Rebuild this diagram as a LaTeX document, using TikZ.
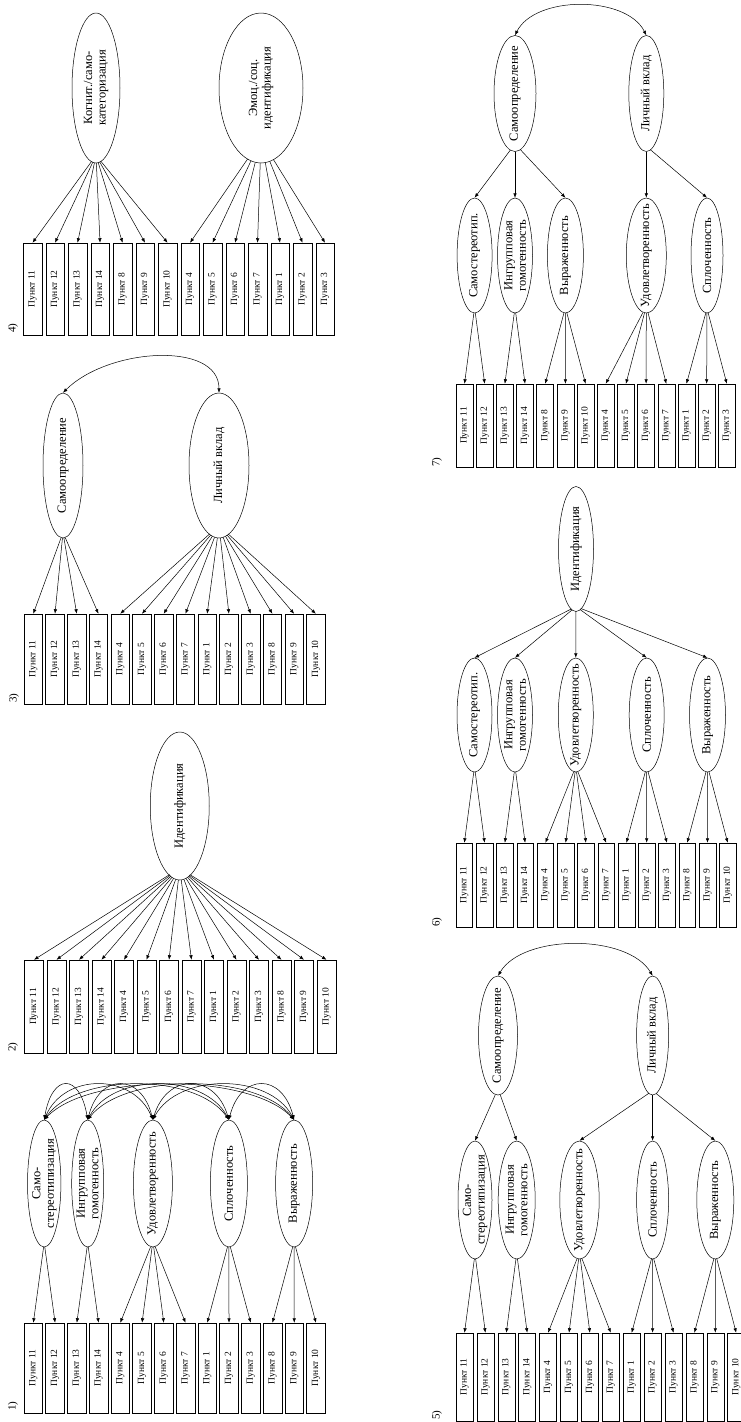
\documentclass[tikz,border=0pt]{standalone}
\usepackage{fontspec}
\setmainfont{Liberation Serif}
\usepackage{graphicx}
\usetikzlibrary{shapes.geometric, arrows.meta}
\tikzset{
  ell/.style={ellipse, draw, line width=0.5pt, inner sep=0pt},
  elltxt/.style={rotate=90, align=center, inner sep=0pt, font=\fontsize{12.5}{13.5}\selectfont},
  itembox/.style={rectangle, draw, line width=0.5pt, inner sep=1pt, font=\fontsize{9.5}{10}\selectfont},
  hub/.style={circle, inner sep=0pt, draw=none},
  arr/.style={line width=0.5pt, -{Latex[length=4.5pt,width=3.5pt]}},
  cov/.style={line width=0.5pt, {Latex[length=4.5pt,width=3.5pt]}-{Latex[length=4.5pt,width=3.5pt]}},
  plab/.style={rotate=90, font=\fontsize{11}{12}\selectfont, inner sep=0pt},
}
% #1 prefix, #2 x0, #3 pitch, #4 width, #5 ytop, #6 ybot, #7 labels
\newcommand\itemrow[7]{%
  \foreach \lab [count=\i from 0] in {#7} {
    \node[itembox, minimum width=#4pt, minimum height={#6-#5}] (#1i\i)
      at ({#2+#4/2+\i*#3}, {(#5+#6)/2}) {\rotatebox{90}{Пункт~\lab}};
  }%
}
% #1 name, #2 cx, #3 cy, #4 rx, #5 ry, #6 text
\newcommand\latent[6]{%
  \node[ell, minimum width={2*#4}, minimum height={2*#5}] (#1) at (#2,#3) {};
  \node[elltxt] (#1t) at (#1) {#6};
  \pgfmathsetmacro\hubr{#4*#4/#5}
  \node[hub, minimum size={2*\hubr}] (#1h) at (#2, {#3+#5-\hubr}) {};
}
\begin{document}
\begin{tikzpicture}[x=1pt, y=-1pt]
\useasboundingbox (0,0) rectangle (741,1422);

% ---------------- Panel 1
\node[plab] (lab1) at (13,1406) {1)};
\itemrow{p1}{24}{21.74}{18.7}{1323}{1413}{11,12,13,14,4,5,6,7,1,2,3,8,9,10}
\latent{p1f1}{44.2}{1183.5}{16.7}{63.5}{Само-\\стереотипизация}
\latent{p1f2}{87.7}{1183.5}{16}{63.5}{Ингрупповая\\гомогенность}
\latent{p1f3}{152.9}{1183.5}{19.5}{63.5}{Удовлетворенность}
\latent{p1f4}{228.9}{1183.5}{18.5}{63.5}{Сплоченность}
\latent{p1f5}{294.1}{1183.5}{18.5}{63.5}{Выраженность}
\foreach \j in {0,1} \draw[arr] (p1f1h) -- (p1i\j.north);
\foreach \j in {2,3} \draw[arr] (p1f2h) -- (p1i\j.north);
\foreach \j in {4,...,7} \draw[arr] (p1f3h) -- (p1i\j.north);
\foreach \j in {8,9,10} \draw[arr] (p1f4h) -- (p1i\j.north);
\foreach \j in {11,12,13} \draw[arr] (p1f5h) -- (p1i\j.north);
\foreach \a/\b/\d in {1/2/8, 1/3/20, 1/4/33, 1/5/45, 2/3/12, 2/4/25, 2/5/37, 3/4/14, 3/5/25, 4/5/12}
  \draw[cov] (p1f\a.north) .. controls +(\d,-47) and +(-\d,-47) .. (p1f\b.north);

% ---------------- Panel 2
\node[plab] (lab2) at (13,1047) {2)};
\itemrow{p2}{24.5}{22.5}{19}{960}{1053}{11,12,13,14,4,5,6,7,1,2,3,8,9,10}
\latent{p2f1}{179.75}{806}{29.5}{74}{Идентификация}
\foreach \j in {0,...,13} \draw[arr] (p2f1h) -- (p2i\j.north);

% ---------------- Panel 3
\node[plab] (lab3) at (14,698) {3)};
\itemrow{p3}{24}{21.74}{18.5}{614}{704}{11,12,13,14,4,5,6,7,1,2,3,8,9,10}
\latent{p3f1}{63}{465.5}{20}{72.5}{Самоопределение}
\latent{p3f2}{219}{465.5}{30}{72.5}{Личный вклад}
\foreach \j in {0,...,3} \draw[arr] (p3f1h) -- (p3i\j.north);
\foreach \j in {4,...,13} \draw[arr] (p3f2h) -- (p3i\j.north);
\draw[cov] (p3f1.north) .. controls +(45,-45) and +(0,-52) .. (p3f2.north);

% ---------------- Panel 4
\node[plab] (lab4) at (13,328) {4)};
\itemrow{p4}{23.3}{22.5}{18.5}{243}{335}{11,12,13,14,8,9,10,4,5,6,7,1,2,3}
\latent{p4f1}{96}{88}{24}{75}{Когнит./само-\\категоризация}
\latent{p4f2}{261}{88}{42}{75}{Эмоц./соц.\\идентификация}
\foreach \j in {0,...,6} \draw[arr] (p4f1h) -- (p4i\j.north);
\foreach \j in {7,...,13} \draw[arr] (p4f2h) -- (p4i\j.north);

% ---------------- Panel 5
\node[plab] (lab5) at (437,1415) {5)};
\itemrow{p5}{456}{20.9}{17}{1333}{1421}{11,12,13,14,4,5,6,7,1,2,3,8,9,10}
\latent{p5f1}{475}{1200}{17}{59}{Само-\\стереотипизация}
\latent{p5f2}{516.7}{1200}{18.5}{59}{Ингрупповая\\гомогенность}
\latent{p5f3}{579.5}{1200}{19.7}{59}{Удовлетворенность}
\latent{p5f4}{652.6}{1200}{16}{59}{Сплоченность}
\latent{p5f5}{715.3}{1200}{18.5}{59}{Выраженность}
\latent{p5g1}{498}{1035.5}{19.5}{59.5}{Самоопределение}
\latent{p5g2}{652.6}{1035.5}{16}{59.5}{Личный вклад}
\foreach \j in {0,1} \draw[arr] (p5f1h) -- (p5i\j.north);
\foreach \j in {2,3} \draw[arr] (p5f2h) -- (p5i\j.north);
\foreach \j in {4,...,7} \draw[arr] (p5f3h) -- (p5i\j.north);
\foreach \j in {8,9,10} \draw[arr] (p5f4h) -- (p5i\j.north);
\foreach \j in {11,12,13} \draw[arr] (p5f5h) -- (p5i\j.north);
\foreach \k in {1,2} \draw[arr] (p5g1h) -- (p5f\k.north);
\foreach \k in {3,4,5} \draw[arr] (p5g2h) -- (p5f\k.north);
\draw[cov] (p5g1.north) .. controls +(25,-42) and +(-25,-42) .. (p5g2.north);

% ---------------- Panel 6
\node[plab] (lab6) at (437,922) {6)};
\itemrow{p6}{456}{20.26}{16.7}{843}{927}{11,12,13,14,4,5,6,7,1,2,3,8,9,10}
\latent{p6f1}{474.5}{715}{17.5}{57}{Самостереотип.}
\latent{p6f2}{515}{715}{17.5}{57}{Ингрупповая\\гомогенность}
\latent{p6f3}{575.8}{715}{17.5}{57}{Удовлетворенность}
\latent{p6f4}{646.7}{715}{17.5}{57}{Сплоченность}
\latent{p6f5}{707.5}{715}{18}{57}{Выраженность}
\latent{p6g1}{576}{549}{17.5}{62.5}{Идентификация}
\foreach \j in {0,1} \draw[arr] (p6f1h) -- (p6i\j.north);
\foreach \j in {2,3} \draw[arr] (p6f2h) -- (p6i\j.north);
\foreach \j in {4,...,7} \draw[arr] (p6f3h) -- (p6i\j.north);
\foreach \j in {8,9,10} \draw[arr] (p6f4h) -- (p6i\j.north);
\foreach \j in {11,12,13} \draw[arr] (p6f5h) -- (p6i\j.north);
\foreach \k in {1,...,5} \draw[arr] (p6g1h) -- (p6f\k.north);

% ---------------- Panel 7
\node[plab] (lab7) at (437,462) {7)};
\itemrow{p7}{456}{20.18}{17}{384}{467}{11,12,13,14,8,9,10,4,5,6,7,1,2,3}
\latent{p7f1}{474.6}{255.5}{17.5}{57.5}{Самостереотип.}
\latent{p7f2}{515}{255.5}{17.5}{57.5}{Ингрупповая\\гомогенность}
\latent{p7f3}{565.4}{255.5}{18}{57.5}{Выраженность}
\latent{p7f4}{646.3}{255.5}{20}{57.5}{Удовлетворенность}
\latent{p7f5}{707}{255.5}{16}{57.5}{Сплоченность}
\latent{p7g1}{515}{93.5}{21}{58}{Самоопределение}
\latent{p7g2}{646.3}{93.5}{17.5}{58}{Личный вклад}
\foreach \j in {0,1} \draw[arr] (p7f1h) -- (p7i\j.north);
\foreach \j in {2,3} \draw[arr] (p7f2h) -- (p7i\j.north);
\foreach \j in {4,5,6} \draw[arr] (p7f3h) -- (p7i\j.north);
\foreach \j in {7,...,10} \draw[arr] (p7f4h) -- (p7i\j.north);
\foreach \j in {11,12,13} \draw[arr] (p7f5h) -- (p7i\j.north);
\foreach \k in {1,2,3} \draw[arr] (p7g1h) -- (p7f\k.north);
\foreach \k in {4,5} \draw[arr] (p7g2h) -- (p7f\k.north);
\draw[cov] (p7g1.north) .. controls +(20,-40) and +(-20,-40) .. (p7g2.north);
\end{tikzpicture}
\end{document}
